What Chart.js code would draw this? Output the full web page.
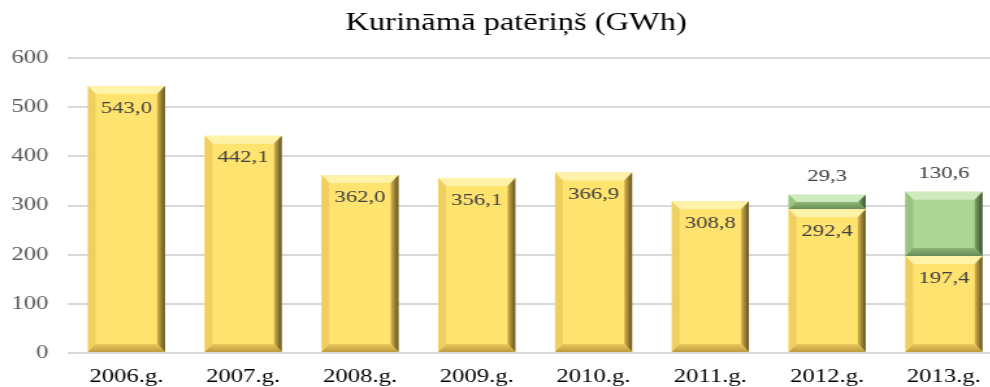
<!DOCTYPE html>
<html lang="lv">
<head>
    <meta charset="UTF-8">
    <title>Kurināmā patēriņš</title>
    <script src="https://cdn.jsdelivr.net/npm/chart.js"></script>
    <style>
        html, body { margin: 0; padding: 0; background: #fff; overflow: hidden; }
        /* chart is laid out narrow and widened horizontally, like the original slide graphic */
        .chart-container { width: 771px; height: 387px; transform: scaleX(1.3); transform-origin: 0 0; }
    </style>
</head>
<body>
    <div class="chart-container">
        <canvas id="fuelChart"></canvas>
    </div>

    <script>
        const chartTitle = 'Kurināmā patēriņš (GWh)';
        const years = ['2006.g.', '2007.g.', '2008.g.', '2009.g.', '2010.g.', '2011.g.', '2012.g.', '2013.g.'];
        const baseFuel = [543.0, 442.1, 362.0, 356.1, 366.9, 308.8, 292.4, 197.4];
        const extraFuel = [null, null, null, null, null, null, 29.3, 130.6];
        const yTicks = [0, 100, 200, 300, 400, 500, 600];

        const serif = "'Liberation Serif', 'Times New Roman', serif";
        const fmt = v => v.toFixed(1).replace('.', ',');

        // bevel shading per face: [top, left, right gradient, bottom gradient]
        const bevels = [
            ['rgba(255,243,175,0.9)', 'rgba(238,205,95,0.95)', ['rgba(215,180,75,1)', 'rgba(95,80,35,1)'], ['rgba(235,200,90,0.95)', 'rgba(185,150,60,0.95)']],
            ['rgba(210,236,195,0.9)', 'rgba(150,195,125,0.95)', ['rgba(125,165,105,1)', 'rgba(60,80,50,1)'], ['rgba(140,180,115,0.95)', 'rgba(100,135,85,0.95)']]
        ];

        const bevelPlugin = {
            id: 'bevel',
            afterDatasetDraw(chart, args) {
                const ctx = chart.ctx;
                const shade = bevels[args.index];
                const values = chart.data.datasets[args.index].data;
                args.meta.data.forEach((bar, j) => {
                    if (values[j] == null) return;
                    const p = bar.getProps(['x', 'y', 'base', 'width'], true);
                    const l = p.x - p.width / 2, r = p.x + p.width / 2;
                    const t = Math.min(p.y, p.base), b = Math.max(p.y, p.base);
                    const sy = Math.min(8, (b - t) / 2);
                    const sx = Math.min(6, sy * 0.75 + 0.5);
                    ctx.save();
                    const poly = (pts, fill) => {
                        ctx.beginPath();
                        ctx.moveTo(pts[0][0], pts[0][1]);
                        pts.slice(1).forEach(q => ctx.lineTo(q[0], q[1]));
                        ctx.closePath();
                        ctx.fillStyle = fill;
                        ctx.fill();
                    };
                    poly([[l, t], [r, t], [r - sx, t + sy], [l + sx, t + sy]], shade[0]);
                    poly([[l, t], [l + sx, t + sy], [l + sx, b - sy], [l, b]], shade[1]);
                    const g = ctx.createLinearGradient(r - sx, 0, r, 0);
                    g.addColorStop(0, shade[2][0]);
                    g.addColorStop(1, shade[2][1]);
                    poly([[r, t], [r, b], [r - sx, b - sy], [r - sx, t + sy]], g);
                    const gb = ctx.createLinearGradient(0, b - sy, 0, b);
                    gb.addColorStop(0, shade[3][0]);
                    gb.addColorStop(1, shade[3][1]);
                    poly([[l, b], [l + sx, b - sy], [r - sx, b - sy], [r, b]], gb);
                    ctx.restore();
                });
            }
        };

        const valueLabels = {
            id: 'valueLabels',
            afterDatasetsDraw(chart) {
                const ctx = chart.ctx;
                ctx.save();
                ctx.font = '17.5px ' + serif;
                ctx.fillStyle = '#404040';
                ctx.textAlign = 'center';
                ctx.textBaseline = 'middle';
                chart.data.datasets.forEach((ds, i) => {
                    chart.getDatasetMeta(i).data.forEach((bar, j) => {
                        const v = ds.data[j];
                        if (v == null) return;
                        const y = i === 0 ? bar.y + 22 : bar.y - 18;
                        ctx.fillText(fmt(v), bar.x, y);
                    });
                });
                ctx.restore();
            }
        };

        // title sits a little right of the canvas centre
        const titlePlugin = {
            id: 'sideTitle',
            afterDraw(chart) {
                const ctx = chart.ctx;
                ctx.save();
                ctx.font = '25px ' + serif;
                ctx.fillStyle = '#000';
                ctx.textAlign = 'center';
                ctx.textBaseline = 'middle';
                ctx.fillText(chartTitle, 397, 23);
                ctx.restore();
            }
        };

        new Chart(document.getElementById('fuelChart'), {
            type: 'bar',
            data: {
                labels: years,
                datasets: [
                    {
                        label: 'Kurināmais',
                        data: baseFuel,
                        backgroundColor: '#FFE36F',
                        borderWidth: 0
                    },
                    {
                        label: 'Papildu',
                        data: extraFuel,
                        backgroundColor: '#ABD693',
                        borderWidth: 0
                    }
                ]
            },
            options: {
                responsive: true,
                maintainAspectRatio: false,
                animation: false,
                datasets: { bar: { categoryPercentage: 1, barPercentage: 0.66 } },
                plugins: {
                    legend: { display: false },
                    tooltip: { enabled: false }
                },
                layout: { padding: { left: 0, right: 0, top: 58, bottom: 0 } },
                scales: {
                    x: {
                        stacked: true,
                        grid: { display: false, drawTicks: false },
                        border: { display: false },
                        ticks: { color: '#000', font: { family: serif, size: 19 }, padding: 13 },
                        afterFit(scale) { scale.height = 34; }
                    },
                    y: {
                        stacked: true,
                        min: 0,
                        max: 600,
                        afterBuildTicks(scale) { scale.ticks = yTicks.map(v => ({ value: v })); },
                        grid: { color: '#d9d9d9', lineWidth: 2, drawTicks: false },
                        border: { display: false },
                        ticks: { color: '#595959', font: { family: serif, size: 19 }, padding: 15 },
                        afterFit(scale) { scale.width = 52.3; }
                    }
                }
            },
            plugins: [bevelPlugin, valueLabels, titlePlugin]
        });
    </script>
</body>
</html>
